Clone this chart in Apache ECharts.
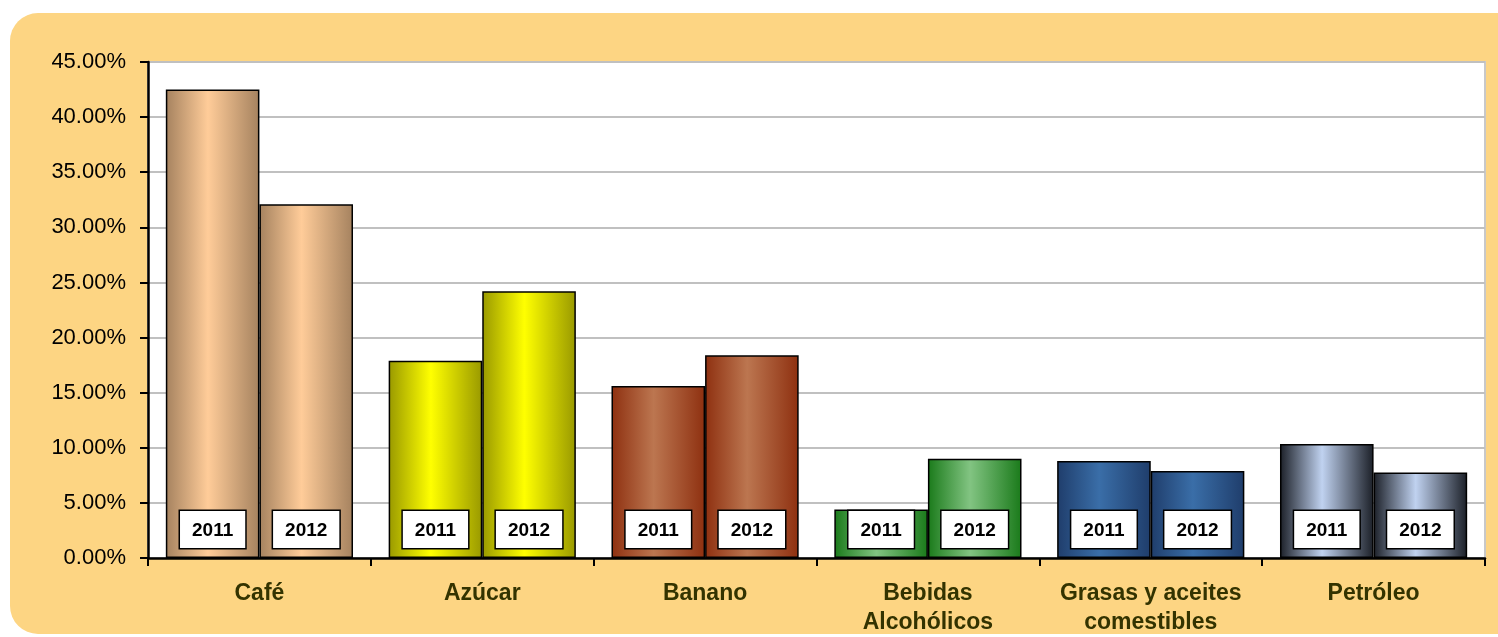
<!DOCTYPE html>
<html>
<head>
<meta charset="utf-8">
<script src="https://cdn.jsdelivr.net/npm/echarts@6/dist/echarts.min.js"></script>
<style>
  html, body { margin: 0; padding: 0; background: #fff; }
  #chart { width: 1498px; height: 637px; }
</style>
</head>
<body>
<div id="chart"></div>
<script>
  // data (percent)
  var categories = ['Café', 'Azúcar', 'Banano', 'Bebidas\nAlcohólicos', 'Grasas y aceites\ncomestibles', 'Petróleo'];
  var values2011 = [42.5, 17.9, 15.6, 4.4, 8.8, 10.35];
  var values2012 = [32.1, 24.2, 18.4, 9.0, 7.9, 7.75];
  var yTicks = [0, 5, 10, 15, 20, 25, 30, 35, 40, 45];

  // edge / centre colour of each category's bars
  var darkColors = ['#A5825F', '#999900', '#8E3010', '#1A7A1A', '#1F3D6B', '#1B1F27'];
  var lightColors = ['#FFCC99', '#FFFF00', '#BC7650', '#82C482', '#3A6EA8', '#C0D2F0'];

  function grad(i) {
    return new echarts.graphic.LinearGradient(0, 0, 1, 0, [
      {offset: 0, color: darkColors[i]},
      {offset: 0.45, color: lightColors[i]},
      {offset: 1, color: darkColors[i]}
    ]);
  }

  function items(vals) {
    return vals.map(function (v, i) {
      return {value: v, itemStyle: {color: grad(i)}};
    });
  }

  var chart = echarts.init(document.getElementById('chart'));

  var barLabel = {
    show: true,
    position: 'insideBottom',
    distance: 10,
    formatter: '{a}',
    color: '#000',
    fontFamily: 'Liberation Sans, Arial, sans-serif',
    fontWeight: 'bold',
    fontSize: 19,
    backgroundColor: '#fff',
    borderColor: '#000',
    borderWidth: 1.5,
    padding: [10, 12, 8, 12]
  };

  var option = {
    animation: false,
    graphic: [{
      type: 'rect',
      z: -10,
      shape: {x: 10, y: 13, width: 1520, height: 621, r: 28},
      style: {fill: '#FDD583'}
    }],
    grid: {
      left: 148,
      right: 13,
      top: 62,
      bottom: 79,
      show: true,
      backgroundColor: '#fff',
      borderColor: '#c8c8c8',
      borderWidth: 2
    },
    xAxis: {
      type: 'category',
      data: categories,
      axisLine: {lineStyle: {color: '#000', width: 2.5}},
      axisTick: {show: true, interval: 0, length: 8, lineStyle: {color: '#000', width: 2}},
      axisLabel: {
        interval: 0,
        margin: 21,
        color: '#333300',
        fontFamily: 'Liberation Sans, Arial, sans-serif',
        fontWeight: 'bold',
        fontSize: 23,
        lineHeight: 29
      }
    },
    yAxis: {
      type: 'value',
      min: yTicks[0],
      max: yTicks[yTicks.length - 1],
      interval: 5,
      axisLine: {show: true, lineStyle: {color: '#000', width: 2.5}},
      axisTick: {show: true, length: 8, lineStyle: {color: '#000', width: 2}},
      splitLine: {lineStyle: {color: '#c0c0c0', width: 2}},
      axisLabel: {
        margin: 22,
        color: '#000',
        fontFamily: 'Liberation Sans, Arial, sans-serif',
        fontSize: 22,
        formatter: function (v) { return v.toFixed(2) + '%'; }
      }
    },
    series: [
      {
        name: '2011',
        type: 'bar',
        data: items(values2011),
        barGap: '0%',
        barCategoryGap: '16%',
        itemStyle: {borderColor: '#000', borderWidth: 1.5},
        label: barLabel
      },
      {
        name: '2012',
        type: 'bar',
        data: items(values2012),
        itemStyle: {borderColor: '#000', borderWidth: 1.5},
        label: barLabel
      }
    ]
  };

  chart.setOption(option);
</script>
</body>
</html>
